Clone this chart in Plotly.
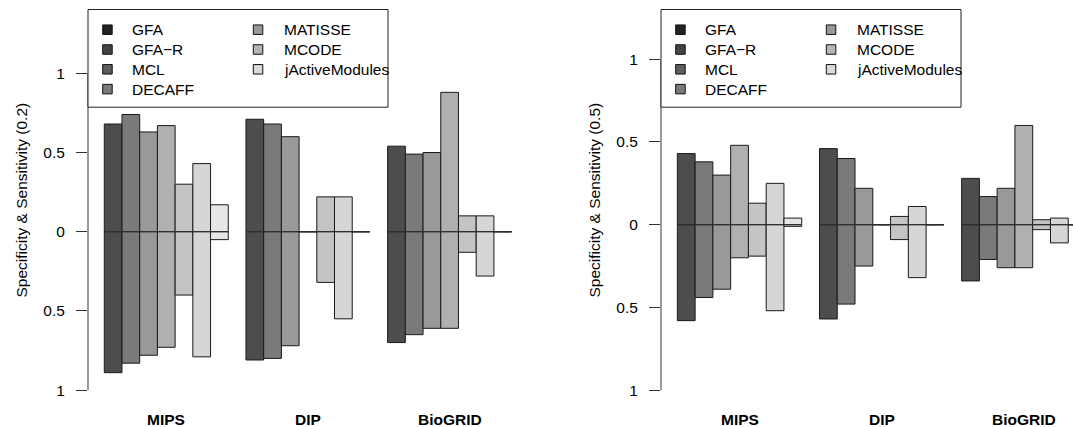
import plotly.graph_objects as go

# ---------------- data ----------------
methods = ["GFA", "GFA\u2212R", "MCL", "DECAFF", "MATISSE", "MCODE", "jActiveModules"]
datasets = ["MIPS", "DIP", "BioGRID"]

# specificity (upward) and sensitivity (downward), threshold 0.2
spec_02 = {
    "GFA":            [0.68, 0.71, 0.54],
    "GFA\u2212R":     [0.74, 0.68, 0.49],
    "MCL":            [0.63, 0.60, 0.50],
    "DECAFF":         [0.67, 0.00, 0.88],
    "MATISSE":        [0.30, 0.22, 0.10],
    "MCODE":          [0.43, 0.22, 0.10],
    "jActiveModules": [0.17, 0.00, 0.00],
}
sens_02 = {
    "GFA":            [0.89, 0.81, 0.70],
    "GFA\u2212R":     [0.83, 0.80, 0.65],
    "MCL":            [0.78, 0.72, 0.61],
    "DECAFF":         [0.73, 0.00, 0.61],
    "MATISSE":        [0.40, 0.32, 0.13],
    "MCODE":          [0.79, 0.55, 0.28],
    "jActiveModules": [0.05, 0.00, 0.00],
}
# threshold 0.5
spec_05 = {
    "GFA":            [0.43, 0.46, 0.28],
    "GFA\u2212R":     [0.38, 0.40, 0.17],
    "MCL":            [0.30, 0.22, 0.22],
    "DECAFF":         [0.48, 0.00, 0.60],
    "MATISSE":        [0.13, 0.05, 0.03],
    "MCODE":          [0.25, 0.11, 0.04],
    "jActiveModules": [0.04, 0.00, 0.00],
}
sens_05 = {
    "GFA":            [0.58, 0.57, 0.34],
    "GFA\u2212R":     [0.44, 0.48, 0.21],
    "MCL":            [0.39, 0.25, 0.26],
    "DECAFF":         [0.20, 0.00, 0.26],
    "MATISSE":        [0.19, 0.09, 0.03],
    "MCODE":          [0.52, 0.32, 0.11],
    "jActiveModules": [0.01, 0.00, 0.00],
}

tick_vals = [-1, -0.5, 0, 0.5, 1]
tick_text = ["1", "0.5", "0", "0.5", "1"]
y_titles = ["Specificity & Sensitivity (0.2)", "Specificity & Sensitivity (0.5)"]

bar_colors = ["#4d4d4d", "#7a7a7a", "#999999", "#b0b0b0", "#c4c4c4", "#d6d6d6", "#e6e6e6"]
legend_colors = ["#222222", "#444444", "#5e5e5e", "#7b7b7b", "#999999", "#b5b5b5", "#d9d9d9"]

# ---------------- layout geometry (pixels) ----------------
W, H = 1073, 427
FONT = "Liberation Sans, Arial, Helvetica, sans-serif"
FS = 15.5
TOP_PX, BOT_PX = 9.5, 404.5

panels = [
    # x-domain px, x-range, y-range
    dict(xd=(88.0, 527.9), xr=(0.08, 24.92), yr=(-1.091, 1.403), spec=spec_02, sens=sens_02, title_x=20.5),
    dict(xd=(661.0, 1073.0), xr=(0.08, 23.268), yr=(-1.087, 1.301), spec=spec_05, sens=sens_05, title_x=593.5),
]

GROUP_STRIDE = len(methods) + 1  # bars per group + one gap

fig = go.Figure()
shapes = []
annotations = []

for p_i, p in enumerate(panels):
    xa = "x" if p_i == 0 else "x2"
    ya = "y" if p_i == 0 else "y2"
    # bars
    for s, m in enumerate(methods):
        xs = [1 + GROUP_STRIDE * g + s + 0.5 for g in range(len(datasets))]
        for vals, sign in ((p["spec"][m], 1), (p["sens"][m], -1)):
            fig.add_trace(go.Bar(
                x=xs, y=[sign * v for v in vals], width=[1] * len(xs),
                marker=dict(color=bar_colors[s], line=dict(color="#1a1a1a", width=1)),
                xaxis=xa, yaxis=ya, showlegend=False, name=m, hoverinfo="skip",
            ))
    # zero lines per group
    for g in range(len(datasets)):
        x0 = 1 + GROUP_STRIDE * g
        fig.add_trace(go.Scatter(
            x=[x0, x0 + len(methods)], y=[0, 0], mode="lines",
            line=dict(color="#333333", width=1), xaxis=xa, yaxis=ya,
            showlegend=False, hoverinfo="skip",
        ))
    # group labels
    for g, d in enumerate(datasets):
        annotations.append(dict(
            x=1 + GROUP_STRIDE * g + len(methods) / 2, xref=xa,
            y=1 - 419 / H, yref="paper", text="<b>%s</b>" % d, showarrow=False,
            font=dict(family=FONT, size=FS, color="black"), xanchor="center", yanchor="middle",
        ))
    # y axis title
    annotations.append(dict(
        x=p["title_x"] / W, xref="paper", y=1 - 200 / H, yref="paper",
        text=y_titles[p_i], textangle=-90, showarrow=False,
        font=dict(family=FONT, size=FS, color="black"), xanchor="center", yanchor="middle",
    ))
    # y axis line from -1 to 1
    shapes.append(dict(type="line", xref=xa + " domain", x0=0, x1=0, yref=ya, y0=-1, y1=1,
                       line=dict(color="#333333", width=1)))
    # legend box
    L = p["xd"][0]
    T = TOP_PX
    shapes.append(dict(type="rect", xref="paper", yref="paper",
                       x0=L / W, x1=(L + 300) / W, y0=1 - T / H, y1=1 - 107.2 / H,
                       fillcolor="white", line=dict(color="#222222", width=1), layer="above"))
    for k, m in enumerate(methods):
        col = 0 if k < 4 else 1
        row = k if k < 4 else k - 4
        cy = T + 20.2 + row * 19.8
        mx = L + (14.7 if col == 0 else 165.3)
        tx = L + (42.3 if col == 0 else 193.7)
        shapes.append(dict(type="rect", xref="paper", yref="paper",
                           x0=mx / W, x1=(mx + 9.5) / W,
                           y0=1 - (cy - 4.75) / H, y1=1 - (cy + 4.75) / H,
                           fillcolor=legend_colors[k], line=dict(color="#111111", width=1), layer="above"))
        annotations.append(dict(
            x=tx / W, xref="paper", y=1 - cy / H, yref="paper", text=m, showarrow=False,
            font=dict(family=FONT, size=FS, color="black"), xanchor="left", yanchor="middle",
        ))

def xaxis_cfg(p):
    return dict(domain=[p["xd"][0] / W, p["xd"][1] / W], range=list(p["xr"]),
                showticklabels=False, showgrid=False, zeroline=False, showline=False, ticks="")

def yaxis_cfg(p, anchor):
    return dict(domain=[1 - BOT_PX / H, 1 - TOP_PX / H], range=list(p["yr"]), anchor=anchor,
                tickvals=tick_vals, ticktext=tick_text, ticks="outside", ticklen=11,
                tickcolor="#333333", tickwidth=1, ticklabelstandoff=8,
                tickfont=dict(family=FONT, size=FS, color="black"),
                showgrid=False, zeroline=False, showline=False)

fig.update_layout(
    width=W, height=H, margin=dict(l=0, r=0, t=0, b=0),
    paper_bgcolor="white", plot_bgcolor="white",
    barmode="overlay", showlegend=False,
    xaxis=xaxis_cfg(panels[0]), yaxis=yaxis_cfg(panels[0], "x"),
    xaxis2=dict(xaxis_cfg(panels[1]), anchor="y2"), yaxis2=yaxis_cfg(panels[1], "x2"),
    shapes=shapes, annotations=annotations,
)
fig.update_layout(xaxis=dict(anchor="y"))

fig.write_html("out.html")
